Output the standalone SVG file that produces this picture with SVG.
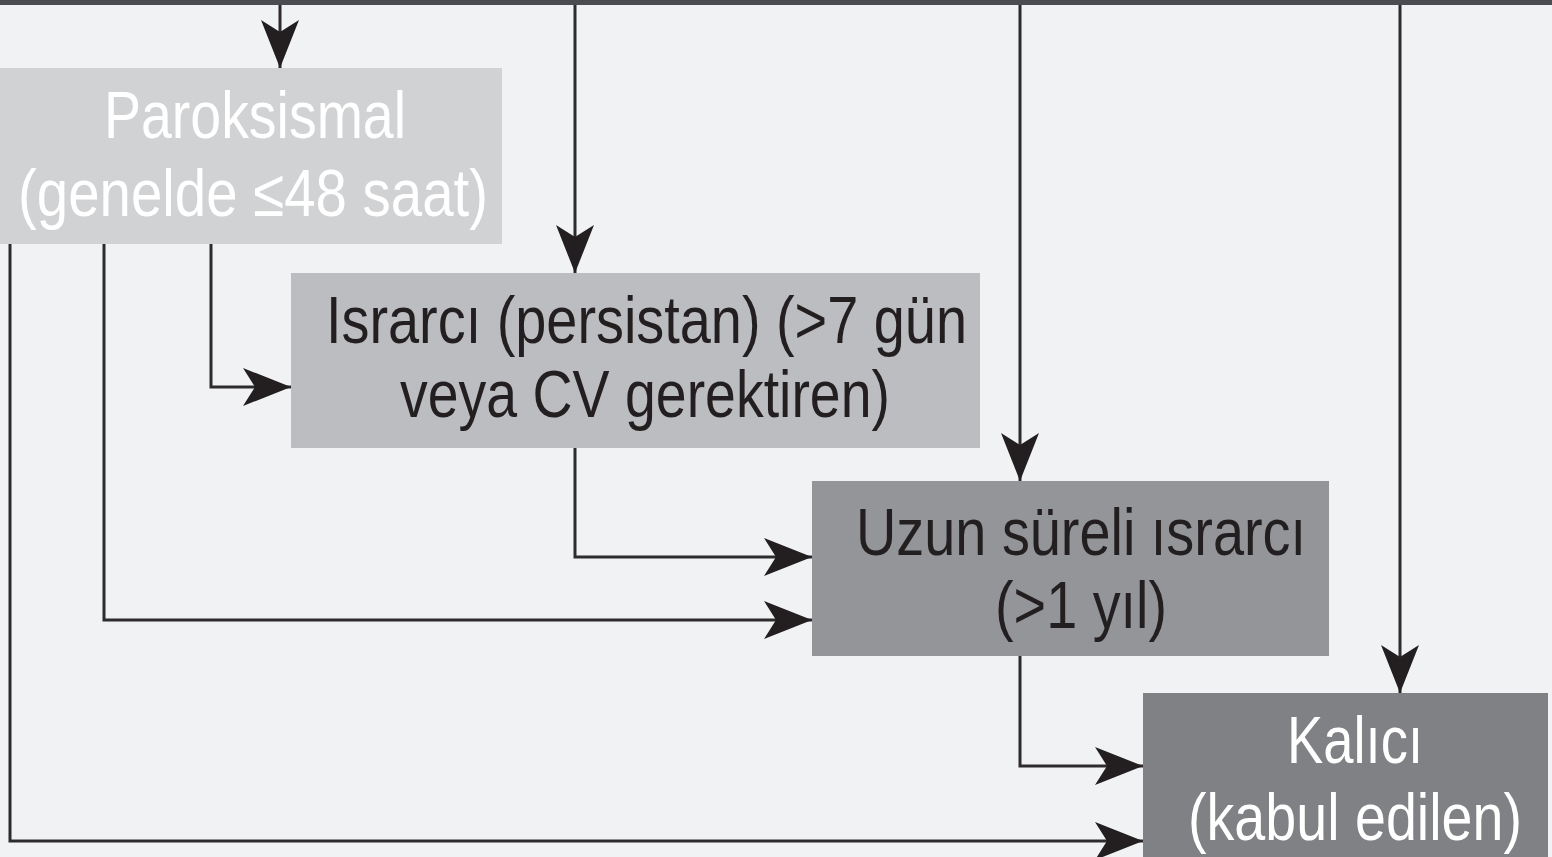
<svg xmlns="http://www.w3.org/2000/svg" width="1552" height="857" viewBox="0 0 1552 857">
  <style>
    .ln { fill: none; stroke: #2e2b2c; stroke-width: 3; }
    .t { font-family: "Liberation Sans", Arial, sans-serif; font-size: 67px; }
    .w { fill: #ffffff; }
    .d { fill: #231f20; }
  </style>
  <defs>
    <marker id="arr" viewBox="0 0 48 38" refX="48" refY="19" markerWidth="48" markerHeight="38" markerUnits="userSpaceOnUse" orient="auto">
      <path d="M0,0 L48,19 L0,38 L12,19 Z" fill="#231f20"/>
    </marker>
  </defs>
  <rect x="0" y="0" width="1552" height="857" fill="#f1f2f4"/>
  <rect x="0" y="0" width="1552" height="5" fill="#4b4c50"/>

  <g id="n-paroksismal">
    <rect x="0" y="68" width="502" height="176" fill="#d1d2d4"/>
    <text class="t w" x="104" y="138" textLength="302" lengthAdjust="spacingAndGlyphs">Paroksismal</text>
    <text class="t w" x="18" y="216" textLength="470" lengthAdjust="spacingAndGlyphs">(genelde ≤48 saat)</text>
  </g>
  <g id="n-israrci">
    <rect x="291" y="273" width="689" height="175" fill="#bcbdc0"/>
    <text class="t d" x="326" y="343" textLength="641" lengthAdjust="spacingAndGlyphs">Israrcı (persistan) (&gt;7 gün</text>
    <text class="t d" x="400" y="417" textLength="490" lengthAdjust="spacingAndGlyphs">veya CV gerektiren)</text>
  </g>
  <g id="n-uzun">
    <rect x="812" y="481" width="517" height="175" fill="#939598"/>
    <text class="t d" x="856" y="555" textLength="450" lengthAdjust="spacingAndGlyphs">Uzun süreli ısrarcı</text>
    <text class="t d" x="995" y="628" textLength="172" lengthAdjust="spacingAndGlyphs">(&gt;1 yıl)</text>
  </g>
  <g id="n-kalici">
    <rect x="1143" y="693" width="405" height="164" fill="#808184"/>
    <text class="t w" x="1287" y="763" textLength="136" lengthAdjust="spacingAndGlyphs">Kalıcı</text>
    <text class="t w" x="1188" y="840" textLength="334" lengthAdjust="spacingAndGlyphs">(kabul edilen)</text>
  </g>

  <g id="connectors">
    <path class="ln" d="M280,5 V68" marker-end="url(#arr)"/>
    <path class="ln" d="M575,5 V273" marker-end="url(#arr)"/>
    <path class="ln" d="M1020,5 V481" marker-end="url(#arr)"/>
    <path class="ln" d="M1400,5 V693" marker-end="url(#arr)"/>
    <path class="ln" d="M10,244 V841 H1143" marker-end="url(#arr)"/>
    <path class="ln" d="M104,244 V620 H812" marker-end="url(#arr)"/>
    <path class="ln" d="M211,244 V387 H291" marker-end="url(#arr)"/>
    <path class="ln" d="M575,448 V557 H812" marker-end="url(#arr)"/>
    <path class="ln" d="M1020,656 V766 H1143" marker-end="url(#arr)"/>
  </g>
</svg>
